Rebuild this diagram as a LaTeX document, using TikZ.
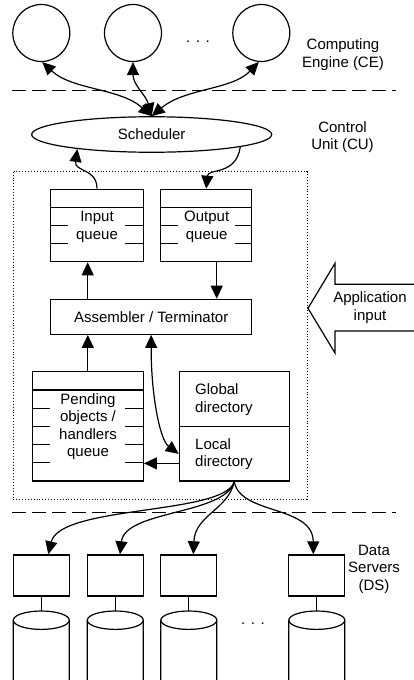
\documentclass[tikz,border=0pt]{standalone}
\usepackage{fontspec}
\setmainfont{Liberation Sans}
\usetikzlibrary{arrows.meta,shapes.geometric}
\begin{document}
\begin{tikzpicture}[x=1pt,y=1pt,
  lbl/.style={font=\fontsize{15}{17.5}\selectfont, align=center, inner sep=0pt},
  box/.style={draw, line width=1.2pt, inner sep=0pt},
  arr/.style={line width=1.2pt, -{Triangle[length=13pt,width=12pt]}},
  darr/.style={line width=1.2pt, {Triangle[length=13pt,width=12pt]}-{Triangle[length=13pt,width=12pt]}},
  sep/.style={line width=1.5pt, dash pattern=on 14pt off 6pt},
  qline/.style={line width=1.2pt},
  ce/.style={box, circle, minimum size=57pt},
  dsbox/.style={box, minimum width=56pt, minimum height=41pt},
]
\useasboundingbox (0,0) rectangle (414,-680);

% computing engines
\node[ce] (c1) at (41.3,-33) {};
\node[ce] (c2) at (133,-33) {};
\node[ce] (c3) at (261.3,-33) {};
\node[lbl, anchor=base] (dots1) at (198,-42) {. . .};
\node[lbl] (celbl) at (343,-54.5) {Computing\\Engine (CE)};

% separators
\draw[sep] (12,-90.7) -- (396,-90.7);
\draw[sep] (12,-512.7) -- (396,-512.7);

% scheduler
\node[box, ellipse, minimum width=240pt, minimum height=35.5pt, lbl, draw, line width=1.2pt] (sched) at (151.7,-134.5) {Scheduler};
\node[lbl] (culbl) at (342.5,-137) {Control\\Unit (CU)};

\draw[darr] (sched.north) .. controls (120,-88) and (72,-90) .. (c1.-88);
\draw[darr] (sched.north) .. controls (146,-95) and (133,-85) .. (c2.south);
\draw[darr] (sched.north) .. controls (185,-88) and (232,-90) .. (c3.-95);

% control unit frame
\draw[dotted, line width=0.9pt] (13,-171.7) rectangle (307,-499);

% input queue
\node[box, minimum width=92.6pt, minimum height=72.4pt] (iq) at (97,-225.5) {};
\draw[qline] (50.7,-207.4) -- (143.3,-207.4);
\foreach \y in {-225.5,-243.6} {
  \draw[qline] (50.7,\y) -- (68.3,\y);
  \draw[qline] (125,\y) -- (143.3,\y);
}
\node[lbl] (iqt) at (97,-226.8) {Input\\queue};

% output queue
\node[box, minimum width=91pt, minimum height=72.4pt] (oq) at (206.2,-225.5) {};
\draw[qline] (160.7,-207.4) -- (251.7,-207.4);
\foreach \y in {-225.5,-243.6} {
  \draw[qline] (160.7,\y) -- (178.3,\y);
  \draw[qline] (235,\y) -- (251.7,\y);
}
\node[lbl] (oqt) at (206.7,-226.8) {Output\\queue};

\draw[arr] (iq.north) .. controls (97,-168) and (74,-172) .. (sched.191);
\draw[arr] (sched.-8) .. controls (236,-176) and (208,-168) .. (oq.north);

% assembler
\node[box, lbl, minimum width=201pt, minimum height=35pt] (asm) at (151.2,-316.8) {Assembler / Terminator};
\draw[arr] ([xshift=-63.5pt]asm.north) -- ([xshift=-63.5pt]asm.north |- iq.south);
\draw[arr] ([xshift=10.5pt]oq.south) -- ([xshift=10.5pt]oq.south |- asm.north);

% pending queue
\node[box, minimum width=111pt, minimum height=109.3pt] (pq) at (87.8,-426.35) {};
\draw[qline] (32.3,-389.9) -- (143.3,-389.9);
\foreach \y in {-408.1,-426.3,-444.5,-462.8} {
  \draw[qline] (32.3,\y) -- (50,\y);
  \draw[qline] (125,\y) -- (143.3,\y);
}
\node[lbl] (pqt) at (88,-426.5) {Pending\\objects /\\handlers\\queue};
\draw[arr] (pq.north) -- (pq.north |- asm.south);

% directories
\node[box, minimum width=110pt, minimum height=55pt] (gd) at (234.3,-399.2) {};
\node[box, minimum width=110pt, minimum height=54.3pt] (ld) at (234.3,-453.85) {};
\node[lbl, anchor=west, align=left] (gdt) at (195,-399.5) {Global\\directory};
\node[lbl, anchor=west, align=left] (ldt) at (195,-454.3) {Local\\directory};

\draw[darr] (asm.south) .. controls (151,-395) and (160,-440) .. (ld.west);
\draw[arr] ([yshift=-9.5pt]ld.west) -- ([yshift=-9.5pt]ld.west -| pq.east);

% application input
\begin{scope}
\clip (0,0) rectangle (414,-680);
\draw[line width=1.2pt] (430,-284.3) -- (335,-284.3) -- (335,-263.3) -- (308,-308.3) -- (335,-353) -- (335,-331) -- (430,-331);
\end{scope}
\node[lbl] (applbl) at (370,-307.5) {Application\\input};

% data servers
\node[dsbox] (ds1) at (41.3,-575.4) {};
\node[dsbox] (ds2) at (115.3,-575.4) {};
\node[dsbox] (ds3) at (188.8,-575.4) {};
\node[dsbox] (ds4) at (316.8,-575.4) {};
\node[lbl] (dslbl) at (374,-569) {Data\\Servers\\(DS)};

\draw[arr] (ld.south) .. controls (225,-515) and (60,-505) .. ([xshift=7pt]ds1.north);
\draw[arr] (ld.south) .. controls (225,-515) and (125,-510) .. ([xshift=4.7pt]ds2.north);
\draw[arr] (ld.south) .. controls (228,-510) and (195,-515) .. ([xshift=4.5pt]ds3.north);
\draw[arr] (ld.south) .. controls (240,-515) and (313,-505) .. ([xshift=-3.5pt]ds4.north);

% disks
\begin{scope}
\clip (0,0) rectangle (414,-680);
\foreach \i/\cx in {1/41.3,2/115.3,3/188.8,4/316.8} {
  \coordinate (cy\i) at (\cx,-611);
  \draw[line width=1.2pt] (\cx-28,-700) -- (\cx-28,-620.2)
     arc[start angle=180,end angle=0,x radius=28,y radius=9.2] -- (\cx+28,-700);
  \draw[line width=1.2pt] (\cx-28,-620.2) arc[start angle=180,end angle=360,x radius=28,y radius=9.2];
}
\end{scope}
\foreach \i in {1,2,3,4} {\draw[line width=1.2pt] (ds\i.south) -- (cy\i);}
\node[lbl, anchor=base] (dots2) at (253,-624.5) {. . .};
\end{tikzpicture}
\end{document}
